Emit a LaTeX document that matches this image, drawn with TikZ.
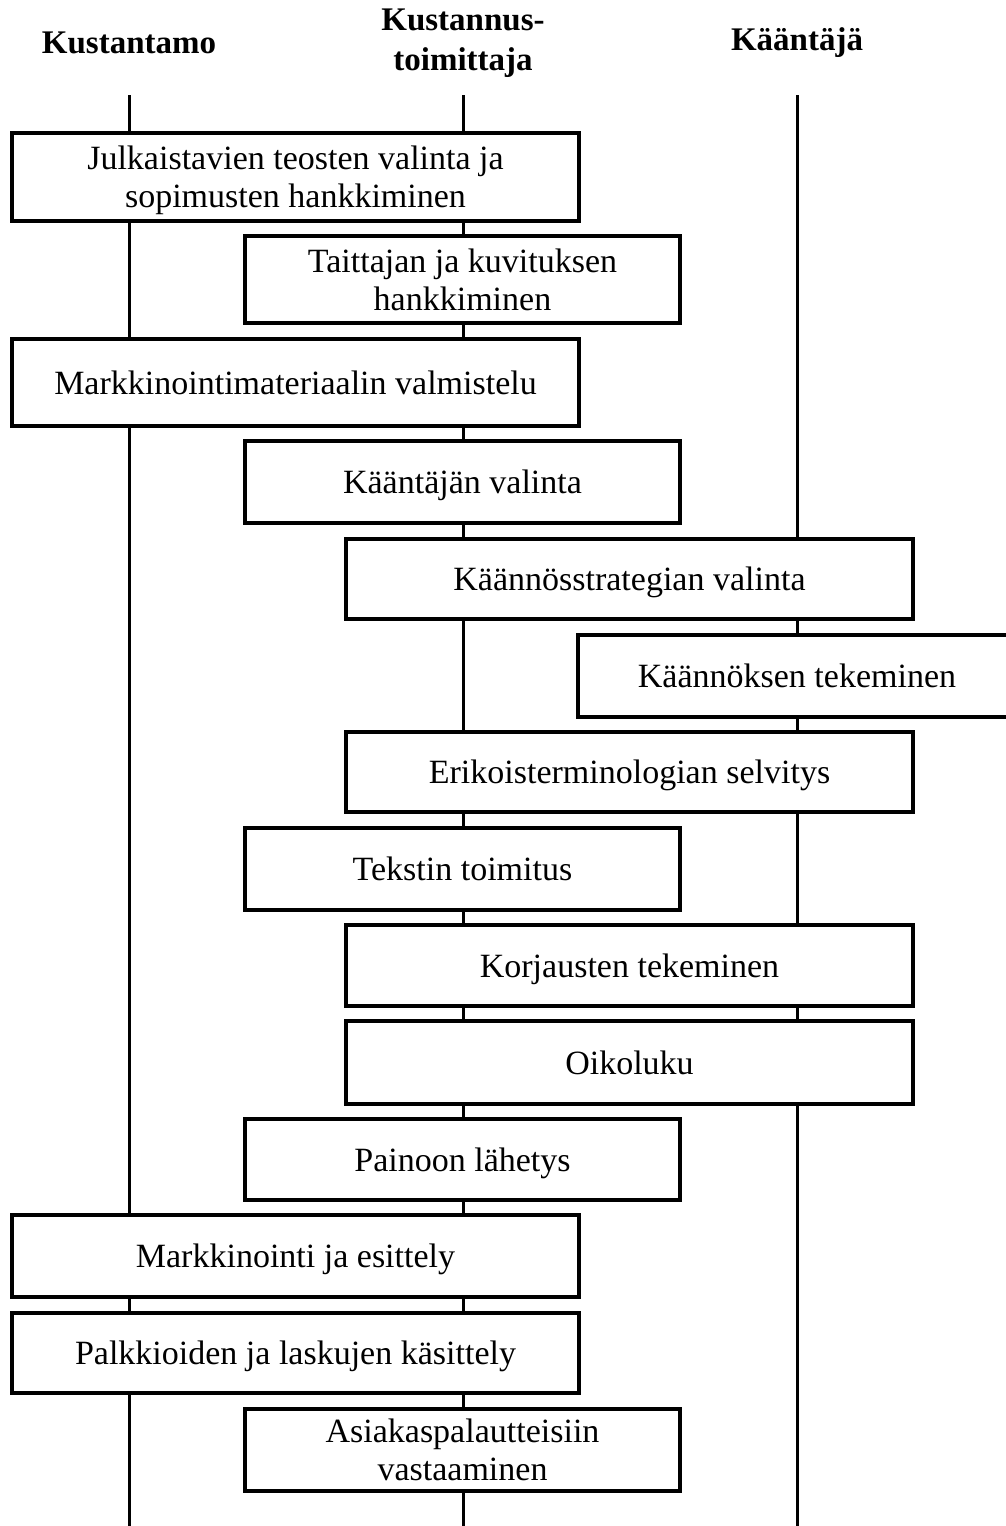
\documentclass[tikz,border=0pt]{standalone}
\usepackage{fontspec}
\usepackage{array}
\setmainfont{Liberation Serif}
\newcommand\sx{\rule[-7.5pt]{0pt}{38pt}}
\newcommand\bt[1]{{\renewcommand\arraystretch{0}\begin{tabular}{@{}>{\sx}c@{}}#1\end{tabular}}}
\begin{document}
\begin{tikzpicture}[x=1pt,y=-1pt,
  box/.style={draw=black,line width=3.2pt,fill=white,inner sep=0pt,
    font=\fontsize{34}{38}\selectfont},
  head/.style={align=center,font=\bfseries\fontsize{33}{40}\selectfont},
  life/.style={line width=3pt}]
\useasboundingbox (0,0) rectangle (1006,1526);
\clip (0,0) rectangle (1006,1526);
% headers
\node[head] (hA) at (129,43) {Kustantamo};
\node[head] (hB) at (463,43) {Kustannus-\\toimittaja};
\node[head] (hC) at (797,43) {Kääntäjä};
% lifelines
\coordinate (tA) at (129,95); \coordinate (bA) at (129,1530);
\coordinate (tB) at (463,95); \coordinate (bB) at (463,1530);
\coordinate (tC) at (797,95); \coordinate (bC) at (797,1530);
\draw[life] (tA) -- (bA);
\draw[life] (tB) -- (bB);
\draw[life] (tC) -- (bC);
% boxes
\node[box,minimum width=567pt,minimum height=88pt] (b1) at (295.5,177) {\bt{Julkaistavien teosten valinta ja\\sopimusten hankkiminen}};
\node[box,minimum width=435pt,minimum height=87pt] (b2) at (462.5,279.5) {\bt{Taittajan ja kuvituksen\\hankkiminen}};
\node[box,minimum width=567pt,minimum height=87pt] (b3) at (295.5,382.5) {\bt{Markkinointimateriaalin valmistelu}};
\node[box,minimum width=435pt,minimum height=82pt] (b4) at (462.5,482) {\bt{Kääntäjän valinta}};
\node[box,minimum width=567pt,minimum height=80pt] (b5) at (629.5,579) {\bt{Käännösstrategian valinta}};
\node[box,minimum width=438pt,minimum height=82pt] (b6) at (797,676) {\bt{Käännöksen tekeminen}};
\node[box,minimum width=567pt,minimum height=80pt] (b7) at (629.5,772) {\bt{Erikoisterminologian selvitys}};
\node[box,minimum width=435pt,minimum height=82pt] (b8) at (462.5,869) {\bt{Tekstin toimitus}};
\node[box,minimum width=567pt,minimum height=81pt] (b9) at (629.5,965.5) {\bt{Korjausten tekeminen}};
\node[box,minimum width=567pt,minimum height=83pt] (b10) at (629.5,1062.5) {\bt{Oikoluku}};
\node[box,minimum width=435pt,minimum height=81pt] (b11) at (462.5,1159.5) {\bt{Painoon lähetys}};
\node[box,minimum width=567pt,minimum height=82pt] (b12) at (295.5,1256) {\bt{Markkinointi ja esittely}};
\node[box,minimum width=567pt,minimum height=80pt] (b13) at (295.5,1353) {\bt{Palkkioiden ja laskujen käsittely}};
\node[box,minimum width=435pt,minimum height=82pt] (b14) at (462.5,1450) {\bt{Asiakaspalautteisiin\\vastaaminen}};
\end{tikzpicture}
\end{document}
